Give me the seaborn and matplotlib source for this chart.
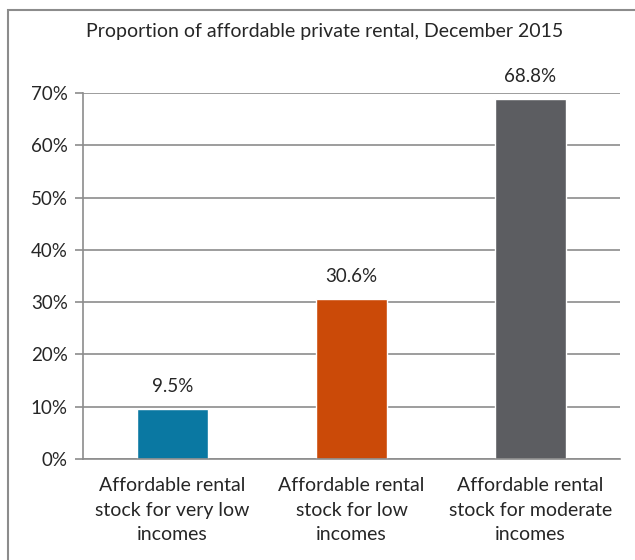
import pandas as pd
import matplotlib
matplotlib.use("Agg")
import matplotlib.pyplot as plt
import seaborn as sns
from matplotlib.patches import Rectangle
from matplotlib.ticker import PercentFormatter, FixedLocator

categories = ["Affordable rental\nstock for very low\nincomes",
              "Affordable rental\nstock for low\nincomes",
              "Affordable rental\nstock for moderate\nincomes"]
values = [9.5, 30.6, 68.8]
colors = ["#0a78a2", "#cb4a08", "#5c5d61"]
title = "Proportion of affordable private rental, December 2015"

sns.set_style("white")
plt.rcParams['font.family'] = ['Lato', 'DejaVu Sans']

df = pd.DataFrame({"cat": categories, "val": values})

fig = plt.figure(figsize=(6.35, 5.6), dpi=100)
ax = fig.add_axes([83 / 635, 1 - 459 / 560, 537 / 635, 366 / 560])

sns.barplot(data=df, x="cat", y="val", hue="cat", palette=colors,
            width=0.4, legend=False, ax=ax, saturation=1)

ax.set_ylim(0, 70)
ax.set_xlim(-0.5, 2.5)
ax.yaxis.set_major_locator(FixedLocator(range(0, 71, 10)))
ax.yaxis.set_major_formatter(PercentFormatter(decimals=0))
ax.grid(axis="y", color="#8c8c8c", linewidth=1.2)
ax.set_axisbelow(True)
for s in ["top", "right"]:
    ax.spines[s].set_visible(False)
for s in ["left", "bottom"]:
    ax.spines[s].set_color("#8c8c8c")
    ax.spines[s].set_linewidth(1.2)

ax.set_xlabel("")
ax.set_ylabel("")
ax.set_xticks([0, 1, 2])
ax.set_xticklabels(categories, fontsize=14, linespacing=1.55)
ax.tick_params(axis="x", length=0, pad=13)
ax.set_xticks([-0.5, 0.5, 1.5, 2.5], minor=True)
ax.tick_params(axis="x", which="minor", length=6, color="#8c8c8c", width=1.2)
ax.tick_params(axis="y", length=6, color="#8c8c8c", width=1.2, labelsize=13.5,
               left=True, pad=5)

for i, v in enumerate(values):
    ax.annotate(f"{v}%", (i, v), xytext=(0, 10), textcoords="offset points",
                ha="center", va="bottom", fontsize=13.5)

fig.text(325 / 635, 1 - 32 / 560, title, ha="center", va="center", fontsize=14)

fig.patches.append(Rectangle((8 / 635, -0.05), 1.0, 1 - 10 / 560 + 0.05,
                             transform=fig.transFigure, fill=False,
                             edgecolor="#8c8c8c", linewidth=1.5))

fig.savefig("out.png", dpi=100)
